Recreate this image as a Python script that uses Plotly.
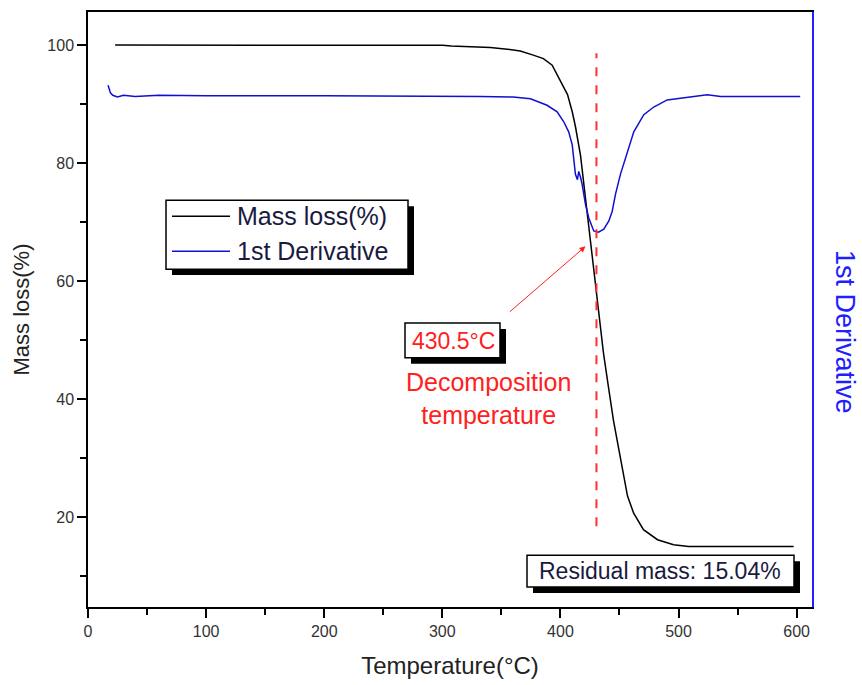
import plotly.graph_objects as go

# ---- data ----
temp_mass = [23, 100, 200, 300, 307.6, 340.7, 355, 366, 377, 385.6, 393, 400, 406, 410, 412.7,
             417, 419.5, 423.7, 427, 429.7, 433, 436.4, 440.7, 444.9, 450, 455, 456.8, 462,
             470.3, 482.2, 495.8, 508.5, 597.5]
mass_loss = [100, 100, 100, 99.95, 99.83, 99.6, 99.3, 99.0, 98.3, 97.7, 96.6, 93.8, 91.6, 88.7, 86.2,
             81.3, 77.0, 70.4, 64.8, 59.6, 53.6, 47.9, 42.0, 36.4, 30.9, 25.3, 23.6, 20.7,
             17.9, 16.2, 15.35, 15.04, 15.04]

temp_deriv = [17, 18, 19, 21, 25, 30, 40, 60, 100, 200, 300, 332, 360, 374.6, 388.7, 397.2, 402.8,
              407, 410, 412, 412.7, 414.4, 415.5, 417, 418.4, 421.2, 424, 428.2, 432.2, 436.7,
              441, 443.8, 446.6, 450.8, 453.6, 457.9, 462.1, 470.6, 479, 490.4, 507.4, 524.3,
              535.6, 603]
deriv = [93.2, 92.6, 91.9, 91.5, 91.2, 91.5, 91.3, 91.5, 91.4, 91.4, 91.4, 91.3, 91.2, 90.9, 89.8,
         88.7, 87.0, 85.3, 83.1, 79.4, 78.1, 77.2, 78.6, 77.6, 76.4, 73.0, 70.7, 68.5, 68.3, 68.8,
         70.2, 71.8, 74.7, 78.1, 79.8, 82.5, 85.3, 88.2, 89.5, 90.7, 91.2, 91.6, 91.3, 91.3]

series_names = ["Mass loss(%)", "1st Derivative"]
series_colors = ["black", "#1010d0"]

decomp_temp = 430.5
decomp_line_y = [18.5, 98.6]
residual_mass = 15.04

x_range = [0, 613]
y_range = [4.8, 105.6]

FONT = "Liberation Sans, Arial, sans-serif"
RED = "#ff2020"

# plot-area pixel frame (for placing overlay boxes)
L, T, R, B = 88, 10, 812, 607
def px(xp):
    return (xp - L) / (R - L)
def py(yp):
    return 1 - (yp - T) / (B - T)

fig = go.Figure()
fig.add_trace(go.Scatter(x=temp_mass, y=mass_loss, mode="lines", name=series_names[0],
                         line=dict(color=series_colors[0], width=1.5), showlegend=False))
fig.add_trace(go.Scatter(x=temp_deriv, y=deriv, mode="lines", name=series_names[1],
                         line=dict(color=series_colors[1], width=1.5), yaxis="y2", showlegend=False))

# dashed decomposition line
fig.add_shape(type="line", x0=decomp_temp, x1=decomp_temp, y0=decomp_line_y[0], y1=decomp_line_y[1],
              xref="x", yref="y", line=dict(color="#ff3030", width=2, dash="dash"))

def shadow_box(x0, y0, x1, y1, off=6):
    fig.add_shape(type="rect", xref="paper", yref="paper", x0=px(x0 + off), x1=px(x1 + off),
                  y0=py(y1 + off), y1=py(y0 + off), fillcolor="black", line=dict(width=0),
                  layer="above")
    fig.add_shape(type="rect", xref="paper", yref="paper", x0=px(x0), x1=px(x1),
                  y0=py(y1), y1=py(y0), fillcolor="white", line=dict(color="black", width=1.5),
                  layer="above")

# legend box
shadow_box(166, 199, 408, 268)
legend_rows = [215, 250]
annots = []
for name, color, yrow in zip(series_names, series_colors, legend_rows):
    fig.add_shape(type="line", xref="paper", yref="paper", x0=px(172), x1=px(230),
                  y0=py(yrow), y1=py(yrow), line=dict(color=color, width=1.5), layer="above")
    annots.append(dict(x=px(235), y=py(yrow), xref="paper", yref="paper", text=name,
                       xanchor="left", yanchor="middle", showarrow=False,
                       font=dict(family=FONT, size=25, color="#1a1a40")))

# label boxes
shadow_box(405, 322, 500, 357)
shadow_box(527, 555, 794, 587)

# arrow
annots.append(dict(x=421.2, y=65.9, ax=355.9, ay=54.6, xref="x", yref="y", axref="x", ayref="y",
                   text="", showarrow=True, arrowhead=2, arrowsize=1.2, arrowwidth=1,
                   arrowcolor=RED))
annots.append(dict(x=px(453), y=py(340), xref="paper", yref="paper", text=f"{decomp_temp}°C",
                   showarrow=False, xanchor="center", yanchor="middle",
                   font=dict(family=FONT, size=23, color=RED)))
annots.append(dict(x=px(488), y=py(398), xref="paper", yref="paper",
                   text="Decomposition<br>temperature", xanchor="center", yanchor="middle",
                   showarrow=False, font=dict(family=FONT, size=25, color=RED)))
annots.append(dict(x=px(660), y=py(571), xref="paper", yref="paper",
                   text=f"Residual mass: {residual_mass}%", xanchor="center", yanchor="middle",
                   showarrow=False, font=dict(family=FONT, size=23, color="#1a1a40")))
# right axis title
annots.append(dict(x=px(845), y=py(331), xref="paper", yref="paper", text="1st Derivative",
                   textangle=90, xanchor="center", yanchor="middle", showarrow=False,
                   font=dict(family=FONT, size=27, color="#2020ff")))

fig.update_layout(
    width=862, height=685,
    margin=dict(l=L, r=862 - R, t=T, b=685 - B),
    paper_bgcolor="white", plot_bgcolor="white",
    font=dict(family=FONT, color="#222"),
    annotations=annots,
    showlegend=False,
    xaxis=dict(range=x_range, showgrid=False, zeroline=False, showline=True, linecolor="black",
               linewidth=1.5, mirror=True, ticks="outside", ticklen=9, tickwidth=1.5,
               tickcolor="black", dtick=100, tick0=0,
               minor=dict(ticks="outside", ticklen=6, tickwidth=1.5, tickcolor="black", dtick=50),
               tickfont=dict(size=16, color="#333"),
               title=dict(text="Temperature(°C)", font=dict(size=24, color="#222"), standoff=18)),
    yaxis=dict(range=y_range, showgrid=False, zeroline=False, showline=True, linecolor="black",
               linewidth=1.5, ticks="outside", ticklen=9, tickwidth=1.5, tickcolor="black",
               dtick=20, tick0=0,
               minor=dict(ticks="outside", ticklen=6, tickwidth=1.5, tickcolor="black", dtick=10),
               tickfont=dict(size=16, color="#333"),
               title=dict(text="Mass loss(%)", font=dict(size=22, color="#222"), standoff=12)),
    yaxis2=dict(range=y_range, overlaying="y", side="right", showgrid=False, zeroline=False,
                showline=True, linecolor="#2020ff", linewidth=1.5, showticklabels=False, ticks=""),
)

fig.write_html("out.html")
